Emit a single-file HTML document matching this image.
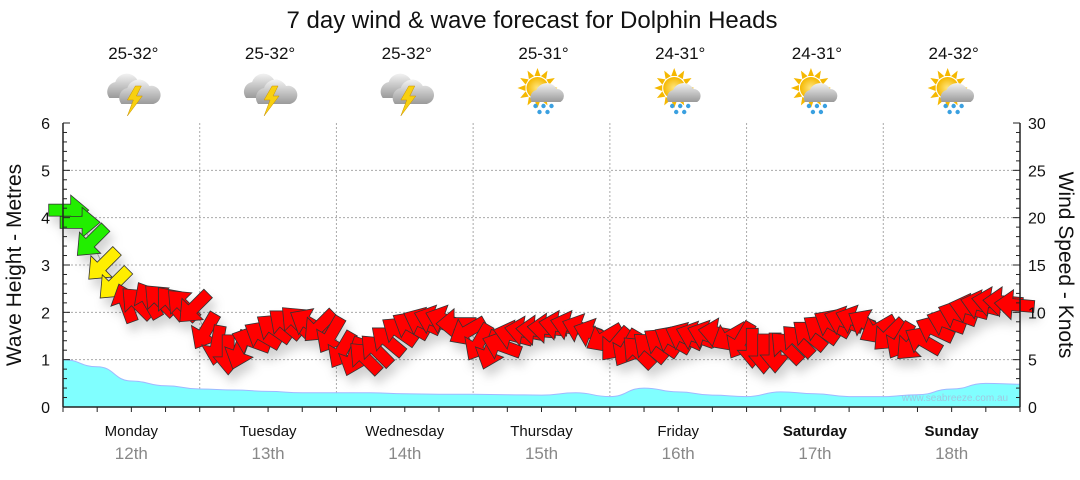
<!DOCTYPE html>
<html><head><meta charset="utf-8">
<style>
html,body{margin:0;padding:0;background:#fff;}
body{width:1080px;height:475px;overflow:hidden;font-family:"Liberation Sans",sans-serif;}
</style></head>
<body>
<svg id="chart" width="1080" height="475" viewBox="0 0 1080 475" xmlns="http://www.w3.org/2000/svg" font-family="Liberation Sans, sans-serif">
<defs>
<radialGradient id="sunG" cx="0.5" cy="0.5" r="0.5"><stop offset="0" stop-color="#ffe680"/><stop offset="1" stop-color="#f5b800"/></radialGradient>
<linearGradient id="cloudG" x1="0" y1="0" x2="0" y2="1"><stop offset="0" stop-color="#f2f2f2"/><stop offset="1" stop-color="#9a9a9a"/></linearGradient>
<filter id="shadow" x="-10%" y="-10%" width="120%" height="140%"><feDropShadow dx="4" dy="8" stdDeviation="5" flood-color="#000" flood-opacity="0.18"/></filter>
</defs>
<text x="532" y="28" text-anchor="middle" font-size="24" fill="#111">7 day wind &amp; wave forecast for Dolphin Heads</text>
<g id="icons"></g>
<g id="grid"></g>
<g id="wave"></g>
<g id="arrows" filter="url(#shadow)"></g>
<g id="axes"></g>
<text x="955" y="401" text-anchor="middle" font-size="10" fill="#9fc8e0">www.seabreeze.com.au</text>
<text transform="translate(21,265) rotate(-90)" text-anchor="middle" font-size="21" fill="#111">Wave Height - Metres</text>
<text transform="translate(1059,265) rotate(90)" text-anchor="middle" font-size="21" fill="#111">Wind Speed - Knots</text>
</svg>
<script>
const days=["Monday","Tuesday","Wednesday","Thursday","Friday","Saturday","Sunday"];
const dates=["12th","13th","14th","15th","16th","17th","18th"];
const temps=["25-32°","25-32°","25-32°","25-31°","24-31°","24-31°","24-32°"];
const weather=["storm","storm","storm","sunrain","sunrain","sunrain","sunrain"];
const waveTicks=[0,1,2,3,4,5,6];
const windTicks=[0,5,10,15,20,25,30];
// wave height (m), 6-hourly
const waveHeight=[1.0,0.85,0.55,0.45,0.38,0.36,0.33,0.3,0.3,0.3,0.28,0.27,0.27,0.26,0.25,0.3,0.22,0.4,0.32,0.25,0.22,0.32,0.28,0.22,0.22,0.26,0.38,0.5,0.48];
// wind speed (knots), 2-hourly
const windSpeed=[
20.8,19.5,17.5,15,13,11,11,11.3,11.3,11,10.8,10.5,
8,6.5,5.5,6,7,7.6,8.3,8.8,9,8.9,8.5,7.6,
6,5.3,5.2,6,7,8,8.6,9,9.2,9.2,8.8,8,
6.8,6,6.5,7.6,8,8.1,8.3,8.6,8.6,8.3,7.8,7.3,
6.6,6.2,5.8,6.3,6.8,7.1,7.4,7.5,7.6,7.8,7.4,7,
6.2,5.6,5.7,6.3,7,7.6,8.2,8.8,9.1,9.2,8.8,8.2,
7.6,7,6.6,7,8.2,9,9.8,10.4,10.8,11.1,11.1,10.8];
// wind arrow direction (degrees, 0 = pointing right, clockwise)
const windDir=[
0,0,135,135,135,250,225,240,225,230,225,135,
120,100,90,110,200,210,215,220,225,210,135,120,
120,110,225,225,220,215,210,205,200,200,180,150,
120,110,200,195,190,185,185,190,195,200,200,150,
130,120,225,220,215,210,205,200,200,190,150,120,
90,90,90,225,225,220,215,210,200,200,210,150,
135,120,135,210,205,200,200,195,195,190,185,185];
const X0=63,X1=1020,Y0=407,Y1=123;
const xHours=h=>X0+(X1-X0)*h/168;
const yWave=v=>Y0-(Y0-Y1)*v/6;
const yWind=v=>Y0-(Y0-Y1)*v/30;
const NS="http://www.w3.org/2000/svg";
function mk(tag,attrs,parent){const e=document.createElementNS(NS,tag);for(const k in attrs)e.setAttribute(k,attrs[k]);parent.appendChild(e);return e;}
const grid=document.getElementById('grid'),axes=document.getElementById('axes'),wave=document.getElementById('wave'),arrows=document.getElementById('arrows'),icons=document.getElementById('icons');
waveTicks.forEach(t=>{if(t>0&&t<6){const l=mk('line',{x1:X0,x2:X1,y1:yWave(t),y2:yWave(t),stroke:'#aaa','stroke-dasharray':'2,2'},grid);

}});
for(let d=1;d<7;d++){const l=mk('line',{x1:xHours(d*24),x2:xHours(d*24),y1:Y1,y2:Y0,stroke:'#aaa','stroke-dasharray':'2,2'},grid);

}
const wp=waveHeight.map((v,i)=>[xHours(i*6),yWave(v)]);
let pts=`M${X0},${Y0} L${wp[0][0]},${wp[0][1]} `;
for(let i=1;i<wp.length;i++){const mx=(wp[i-1][0]+wp[i][0])/2;pts+=`C${mx},${wp[i-1][1]} ${mx},${wp[i][1]} ${wp[i][0]},${wp[i][1]} `;}
pts+=`L${X1},${Y0} Z`;
const wa=mk('path',{d:pts,fill:'#80ffff',stroke:'#a0b8ff','stroke-width':1},wave);


const step=168/windSpeed.length;
let lp='';windSpeed.forEach((v,i)=>{lp+=(i?'L':'M')+xHours(i*step+step/2).toFixed(1)+','+yWind(v).toFixed(1)+' ';});
const wl=mk('path',{d:lp,fill:'none',stroke:'#999','stroke-width':1},arrows);


windSpeed.forEach((v,i)=>{const col=v>=17?'#22ee00':v>=12.5?'#ffee00':'#ff0000';
const a=mk('path',{d:'M-20,-6 L2,-6 L2,-15 L20,0 L2,15 L2,6 L-20,6 Z',fill:col,stroke:'#333','stroke-width':0.8,transform:`translate(${xHours(i*step+step/2).toFixed(1)},${yWind(v).toFixed(1)}) rotate(${windDir[i]})`},arrows);

});
const al=mk('line',{x1:X0,x2:X0,y1:Y1,y2:Y0,stroke:'#222','stroke-width':1.5},axes);
const ar=mk('line',{x1:X1,x2:X1,y1:Y1,y2:Y0,stroke:'#222','stroke-width':1.5},axes);
const ab=mk('line',{x1:X0,x2:X1,y1:Y0,y2:Y0,stroke:'#222','stroke-width':1.5},axes);
for(let i=0;i<=30;i++){const y=Y0-(Y0-Y1)*i/30;mk('line',{x1:X0,x2:X0+(i%5?4:7),y1:y,y2:y,stroke:'#222'},axes);mk('line',{x1:X1,x2:X1-(i%5?4:7),y1:y,y2:y,stroke:'#222'},axes);}
waveTicks.forEach(t=>{const tx=mk('text',{x:50,y:yWave(t)+6,'text-anchor':'end','font-size':16,fill:'#111'},axes);tx.textContent=t;

});
windTicks.forEach(t=>{const tx=mk('text',{x:1028,y:yWind(t)+6,'font-size':16,fill:'#111'},axes);tx.textContent=t;

});
for(let h=0;h<=168;h+=6){mk('line',{x1:xHours(h),x2:xHours(h),y1:Y0,y2:Y0+5,stroke:'#222'},axes);}
days.forEach((d,i)=>{const cx=xHours(i*24+12);
const t=mk('text',{x:cx,y:436,'text-anchor':'middle','font-size':15,fill:'#111','font-weight':i>=5?'bold':'normal'},axes);t.textContent=d;


const t2=mk('text',{x:cx,y:459,'text-anchor':'middle','font-size':17,fill:'#888'},axes);t2.textContent=dates[i];


const t3=mk('text',{x:cx+2,y:59,'text-anchor':'middle','font-size':17,fill:'#111'},icons);t3.textContent=temps[i];


const g=mk('g',{transform:`translate(${cx+2},92)`},icons);


if(weather[i]==='storm'){
 mk('path',{d:'M-24,6 a10,10 0 0 1 6,-16 a12,12 0 0 1 22,-2 a9,9 0 0 1 4,18 Z',fill:'url(#cloudG)'},g);
 mk('path',{d:'M-12,12 a10,10 0 0 1 6,-16 a12,12 0 0 1 22,-2 a9,9 0 0 1 4,18 Z',fill:'url(#cloudG)'},g);
 mk('path',{d:'M2,-6 L-6,8 L0,8 L-6,24 L9,4 L3,4 L8,-6 Z',fill:'#f8d010',stroke:'#c89000','stroke-width':0.5},g);
}else{
 for(let k=0;k<12;k++){mk('path',{d:'M-3,-12 L0,-20 L3,-12 Z',fill:'#f5b800',transform:`translate(-6,-4) rotate(${k*30})`},g);}
 mk('circle',{cx:-6,cy:-4,r:11,fill:'url(#sunG)'},g);
 mk('path',{d:'M-12,10 a8,8 0 0 1 5,-12 a11,11 0 0 1 20,-1 a7,7 0 0 1 4,13 Z',fill:'url(#cloudG)'},g);
 [[-8,14],[0,14],[8,14],[-4,20],[4,20]].forEach(p=>mk('circle',{cx:p[0],cy:p[1],r:2.2,fill:'#3aa0e0'},g));
}});
</script>
</body></html>
